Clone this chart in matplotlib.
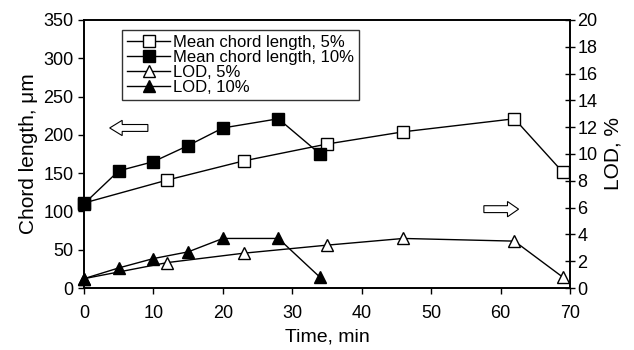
import matplotlib.pyplot as plt
from matplotlib.patches import FancyArrow

plt.rcParams['font.family'] = ['Liberation Sans', 'DejaVu Sans']

# Mean chord length (left axis, um)
t_mcl5 = [0, 12, 23, 35, 46, 62, 69]
mcl5 = [111, 141, 166, 188, 204, 221, 151]
t_mcl10 = [0, 5, 10, 15, 20, 28, 34]
mcl10 = [110, 153, 165, 186, 209, 221, 175]

# LOD (right axis, %)
t_lod5 = [0, 12, 23, 35, 46, 62, 69]
lod5 = [0.7, 1.9, 2.6, 3.2, 3.7, 3.5, 0.8]
t_lod10 = [0, 5, 10, 15, 20, 28, 34]
lod10 = [0.7, 1.5, 2.2, 2.7, 3.7, 3.7, 0.8]

fig = plt.figure(figsize=(6.34, 3.5), dpi=100)
ax = fig.add_axes([0.1325, 0.177, 0.7665, 0.766])
ax2 = ax.twinx()

ms = 8
h1, = ax.plot(t_mcl5, mcl5, color="black", lw=1, marker="s", ms=ms,
              markerfacecolor="white", markeredgecolor="black", label="Mean chord length, 5%")
h2, = ax.plot(t_mcl10, mcl10, color="black", lw=1, marker="s", ms=ms,
              markerfacecolor="black", label="Mean chord length, 10%")
h3, = ax2.plot(t_lod5, lod5, color="black", lw=1, marker="^", ms=ms + 1,
               markerfacecolor="white", markeredgecolor="black", label="LOD, 5%")
h4, = ax2.plot(t_lod10, lod10, color="black", lw=1, marker="^", ms=ms + 1,
               markerfacecolor="black", label="LOD, 10%")
for h in (h1, h2, h3, h4):
    h.set_clip_on(False)

ax.set_xlim(0, 70)
ax.set_ylim(0, 350)
ax2.set_ylim(0, 20)
ax.set_xticks(range(0, 71, 10))
ax.set_yticks(range(0, 351, 50))
ax2.set_yticks(range(0, 21, 2))

ax.set_xlabel("Time, min", fontsize=14, labelpad=5)
ax.set_ylabel("Chord length, \u03bcm", fontsize=15, labelpad=4)
ax2.set_ylabel("LOD, %", fontsize=15, labelpad=4)

ax.tick_params(labelsize=13, direction="out", length=4, width=1)
ax.tick_params(axis="x", pad=8)
ax2.tick_params(labelsize=13, direction="inout", length=7, width=1, pad=2)
for a in (ax, ax2):
    for s in a.spines.values():
        s.set_linewidth(1.2)

leg = ax.legend(handles=[h1, h2, h3, h4], loc="upper left", bbox_to_anchor=(0.078, 0.962),
                fontsize=12, frameon=True, fancybox=False, edgecolor="black",
                handlelength=2.6, handletextpad=0.15, labelspacing=0.0,
                borderpad=0.3, borderaxespad=0)
leg.get_frame().set_linewidth(1)

# hollow arrows showing which axis each group belongs to
ax.add_patch(FancyArrow(9.2, 209, -5.5, 0, width=9, head_width=20, head_length=1.8,
                        length_includes_head=True, facecolor="white", edgecolor="black", lw=0.8))
ax.add_patch(FancyArrow(57.6, 103, 5.0, 0, width=9, head_width=20, head_length=1.6,
                        length_includes_head=True, facecolor="white", edgecolor="black", lw=0.8))

fig.savefig("out.png", dpi=100)
